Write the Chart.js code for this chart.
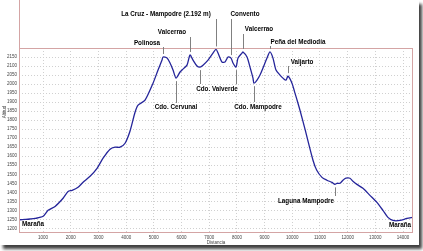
<!DOCTYPE html>
<html><head><meta charset="utf-8">
<script src="https://cdn.jsdelivr.net/npm/chart.js@4.4.0/dist/chart.umd.min.js"></script>
<style>
html,body{margin:0;padding:0;background:#fff;}
#wrap{position:absolute;left:0;top:0;width:419px;height:245px;background:#fff;box-shadow:3px 4px 3px rgba(0,0,0,0.75);}
canvas{display:block;}
</style></head><body>
<div id="wrap"><canvas id="c" width="419" height="245"></canvas></div>
<script>
// Distance (m) and altitude (m) of the profile
const distances = [150,350,530,711,1000,1180,1433,1722,1902,2047,2263,2444,2697,2949,3166,3419,3599,3780,3960,4141,4321,4430,4682,4971,5152,5296,5332,5477,5585,5693,5801,5946,6054,6198,6307,6415,6559,6668,6776,6957,7137,7245,7318,7462,7570,7679,7787,7859,7968,8040,8184,8220,8365,8473,8581,8617,8726,8834,8942,9087,9195,9303,9412,9556,9664,9773,9845,9989,10097,10206,10278,10459,10748,10884,11072,11252,11433,11541,11613,11722,11830,11938,12083,12191,12335,12552,12805,13057,13274,13454,13635,13888,14140,14357];
const altitudes = [1248,1250,1252,1255,1267,1300,1322,1367,1405,1411,1428,1456,1489,1533,1589,1639,1650,1650,1672,1740,1844,1883,1911,2005,2078,2133,2150,2144,2117,2078,2033,2067,2083,2105,2161,2133,2100,2094,2105,2133,2172,2192,2172,2122,2122,2150,2144,2117,2094,2144,2172,2178,2150,2094,2033,2005,2022,2050,2089,2144,2178,2144,2078,2050,2033,2022,2044,2005,1950,1894,1855,1750,1578,1522,1483,1467,1455,1444,1450,1450,1467,1478,1478,1461,1444,1422,1383,1344,1300,1261,1244,1244,1255,1261];
const xTickValues = [1000,2000,3000,4000,5000,6000,7000,8000,9000,10000,11000,12000,13000,14000];
const yTickValues = [1200,1250,1300,1350,1400,1450,1500,1550,1600,1650,1700,1750,1800,1850,1900,1950,2000,2050,2100,2150];
const xTitle = 'Distancia';
const yTitle = 'Altitud';
// Named places: text, distances the leader points to
const placeNames = ['La Cruz - Mampodre (2.192 m)','Convento','Valcerrao','Valcerrao','Polinosa','Peña del Mediodía','Valjarto','Cdo. Cervunal','Cdo. Valverde','Cdo. Mampodre','Laguna Mampodre','Maraña','Maraña'];
const placeAt = [[7245],[7787],[6307],[8220],[5332],[9195],[9845],[5801],[6668,7968],[8617],[11541],[],[]];

// layout of the labels (pixels)
const placeLayout = [
  {tx:166,ty:14,end:19},{tx:245,ty:14,end:19},{tx:172,ty:32,end:37},{tx:259,ty:29,end:34},
  {tx:147,ty:43,end:47},{tx:298,ty:42,end:46},{tx:302,ty:62,end:66},{tx:176,ty:107,end:103},
  {tx:217,ty:89,end:84},{tx:258,ty:107,end:102},{tx:306,ty:201,end:196},{tx:33,ty:224},{tx:400,ty:225}
];

const decor = {
  id:'decor',
  afterDraw(chart){
    const ctx = chart.ctx, a = chart.chartArea;
    const xs = chart.scales.x, ys = chart.scales.y;
    ctx.save();
    ctx.strokeStyle = '#d4a4a4'; ctx.lineWidth = 1;
    ctx.strokeRect(Math.round(a.left)+0.5, Math.round(a.top)+0.5, Math.round(a.right-a.left)-1, Math.round(a.bottom-a.top));
    ctx.beginPath(); ctx.moveTo(Math.round(a.left)+0.5,0); ctx.lineTo(Math.round(a.left)+0.5,a.top); ctx.stroke();
    // leaders
    ctx.strokeStyle = '#808080';
    placeNames.forEach((t,i)=>{
      const L = placeLayout[i];
      placeAt[i].forEach(d=>{
        const k = distances.indexOf(d);
        const px = Math.round(xs.getPixelForValue(d))+0.5;
        const py = ys.getPixelForValue(altitudes[k]);
        ctx.beginPath();
        if (L.end < py) { ctx.moveTo(px, L.end); ctx.lineTo(px, py-3); }
        else { ctx.moveTo(px, py+3); ctx.lineTo(px, L.end); }
        ctx.stroke();
      });
    });
    ctx.fillStyle = '#000';
    ctx.font = 'bold 6.3px "Liberation Sans", Arial, sans-serif';
    ctx.textAlign = 'center'; ctx.textBaseline = 'middle';
    placeNames.forEach((t,i)=>{ const L = placeLayout[i]; ctx.fillText(t, L.tx, L.ty); });
    ctx.fillStyle = '#444';
    ctx.font = '4.5px "Liberation Sans", Arial, sans-serif';
    ctx.fillText(xTitle, (a.left+a.right)/2, 243);
    ctx.translate(5, 112); ctx.rotate(-Math.PI/2);
    ctx.fillText(yTitle, 0, 0);
    ctx.restore();
  }
};

const tickFont = { size:4.5, family:'"Liberation Sans", Arial, sans-serif' };

new Chart(document.getElementById('c'), {
  type:'line',
  data:{ datasets:[{ data: distances.map((d,i)=>({x:d,y:altitudes[i]})), borderColor:'#25259a', borderWidth:1.3, pointRadius:0, tension:0.25, fill:false }]},
  options:{
    responsive:false, animation:false,
    layout:{ padding:{ top:48, right:6, left:0, bottom:0 } },
    plugins:{ legend:{display:false}, tooltip:{enabled:false} },
    scales:{
      x:{ type:'linear', min:130, max:14360,
        afterBuildTicks(s){ s.ticks = xTickValues.map(v=>({value:v})); },
        afterFit(s){ s.height = 13; },
        grid:{ color:'#d0d0d0', drawTicks:false, lineWidth:1 },
        border:{ display:false, dash:[1,2] },
        ticks:{ autoSkip:false, maxRotation:0, padding:3, color:'#444', font:tickFont, callback:v=>String(v) }
      },
      y:{ type:'linear', min:1180, max:2200,
        afterBuildTicks(s){ s.ticks = yTickValues.map(v=>({value:v})); },
        afterFit(s){ s.width = 19; },
        grid:{ color:'#d0d0d0', drawTicks:false, lineWidth:1 },
        border:{ display:false, dash:[1,2] },
        ticks:{ autoSkip:false, padding:2, color:'#444', font:tickFont, callback:v=>String(v) }
      }
    }
  },
  plugins:[decor]
});
</script>
</body></html>
